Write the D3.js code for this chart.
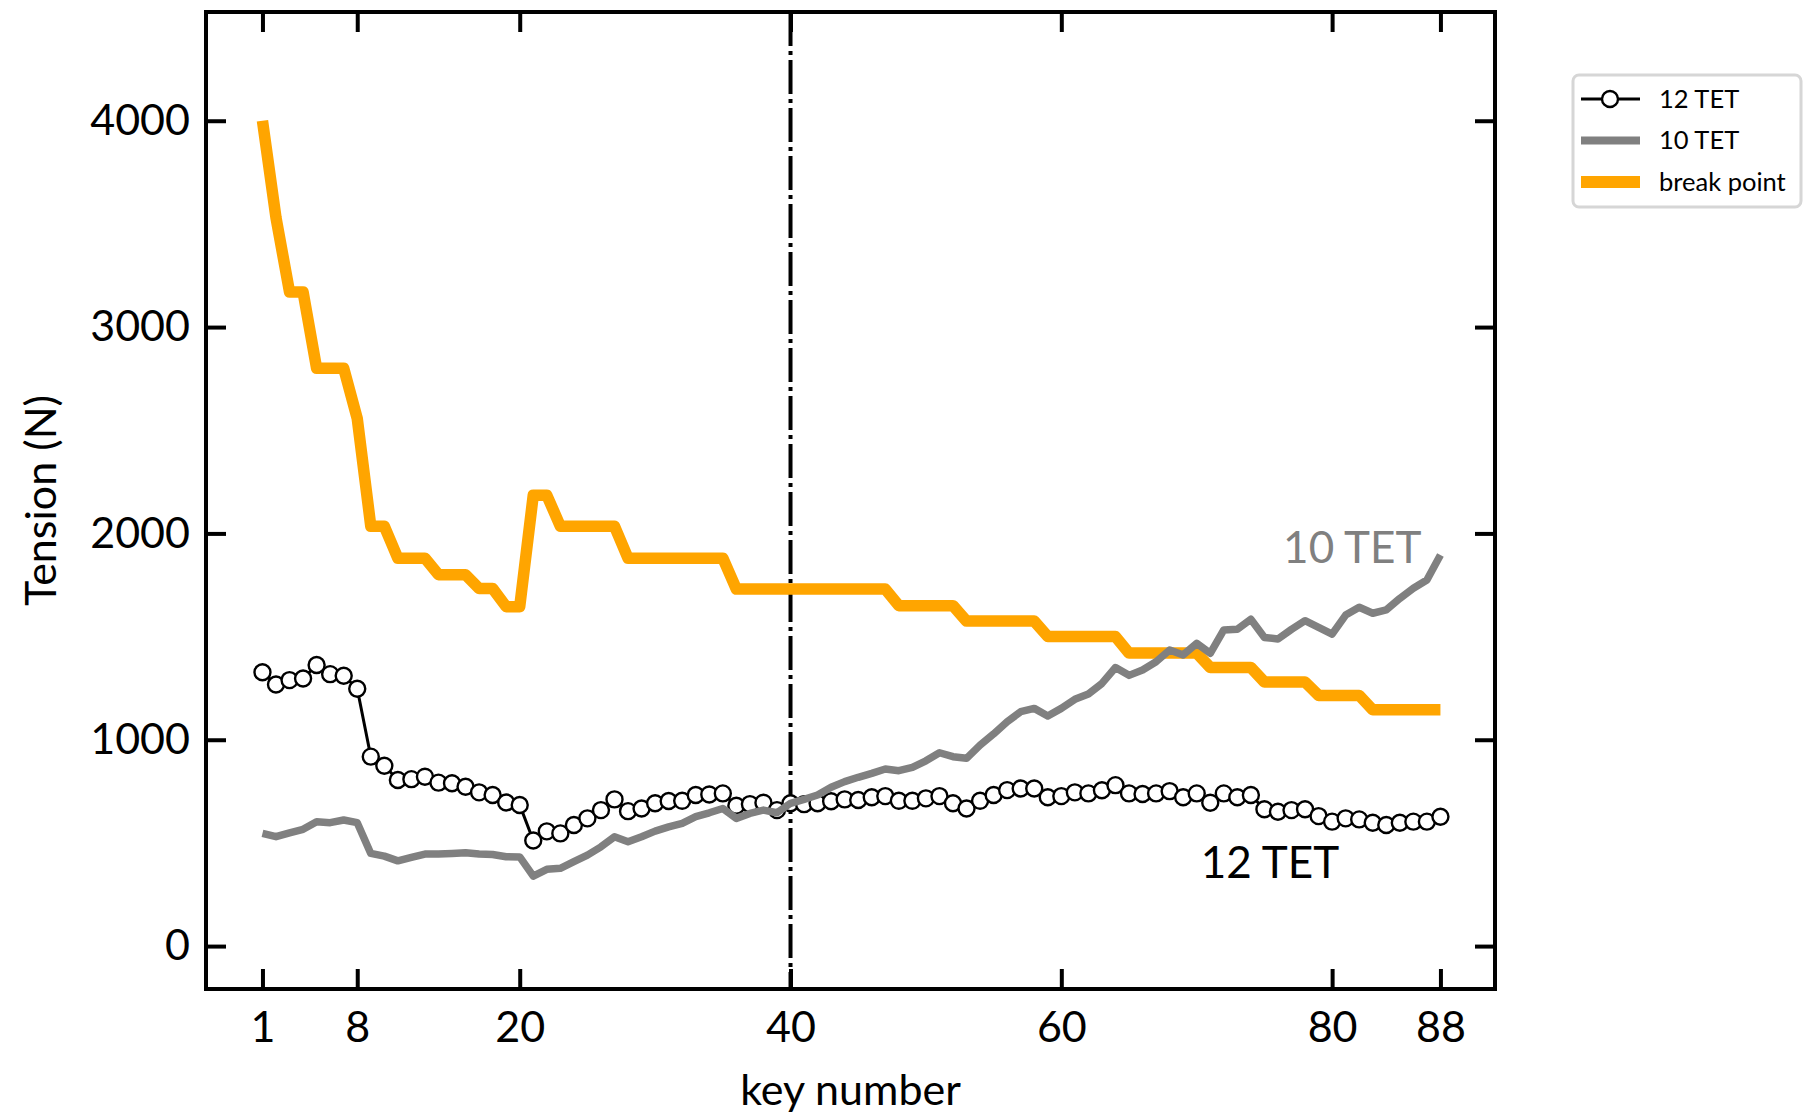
<!DOCTYPE html>
<html>
<head>
<meta charset="utf-8">
<script src="https://cdn.jsdelivr.net/npm/d3@7"></script>
<style>
  body { margin: 0; background: #fff; }
  svg text { font-family: Lato, "Open Sans", sans-serif; }
</style>
</head>
<body>
<div id="chart"></div>
<script>
// key numbers 1..88 of the piano
let keys = d3.range(1, 89)

let tet12 = [1327,1268,1289,1297,1362,1318,1310,1247,918,874,
  805,809,821,792,789,772,745,732,696,684,
  512,556,546,587,619,659,711,654,667,692,
  703,704,732,735,740,680,688,695,659,692,
  688,692,702,711,708,721,727,704,704,716,
  727,692,667,704,732,756,764,764,721,727,
  745,740,755,780,740,737,740,751,721,740,
  695,740,721,732,663,651,659,663,630,603,
  619,614,598,587,598,603,603,627]

let tet10 = [546,530,549,566,603,598,611,598,449,436,
  413,430,446,446,449,452,446,444,433,432,
  339,372,377,409,441,481,530,506,530,557,
  578,595,627,646,667,619,643,659,646,692,
  711,732,770,797,818,837,858,850,866,898,
  937,918,910,974,1028,1087,1136,1152,1115,1152,
  1196,1222,1273,1350,1312,1338,1378,1435,1411,1467,
  1419,1532,1535,1584,1496,1488,1535,1577,1545,1512,
  1604,1642,1613,1629,1685,1734,1774,1895]

let breakPoint = [4000,3530,3170,3170,2800,2800,2800,2557,2035,2035,
  1880,1880,1880,1800,1800,1800,1733,1733,1645,1645,
  2185,2185,2035,2035,2035,2035,2035,1880,1880,1880,
  1880,1880,1880,1880,1880,1730,1730,1730,1730,1730,
  1730,1730,1730,1730,1730,1730,1730,1650,1650,1650,
  1650,1650,1575,1575,1575,1575,1575,1575,1500,1500,
  1500,1500,1500,1500,1420,1420,1420,1420,1420,1420,
  1350,1350,1350,1350,1280,1280,1280,1280,1215,1215,
  1215,1215,1145,1145,1145,1145,1145,1145]

let xTicks = [1, 8, 20, 40, 60, 80, 88]
let yTicks = [0, 1000, 2000, 3000, 4000]
let splitKey = 40

let margin = {top: 12, right: 312, bottom: 128, left: 206}
let W = 1807, H = 1117
let width = W - margin.left - margin.right,
    height = H - margin.top - margin.bottom

let xScale = d3.scaleLinear().domain([-3.17, 92.03]).range([0, width])
let yScale = d3.scaleLinear().domain([-208, 4527]).range([height, 0])

let svg = d3.select("#chart").append("svg")
  .attr("width", W)
  .attr("height", H)

let g = svg.append("g")
  .attr("transform", "translate(" + margin.left + "," + margin.top + ")")

let line = d3.line()
  .x(function(d) { return xScale(d[0]) })
  .y(function(d) { return yScale(d[1]) })

// vertical split marker
g.append("line")
  .attr("x1", xScale(splitKey)).attr("x2", xScale(splitKey))
  .attr("y1", 0).attr("y2", height)
  .attr("stroke", "#000")
  .attr("stroke-width", 4)
  .attr("stroke-dasharray", "34,5,4,5")

g.append("path")
  .datum(keys.map(function(k, i) { return [k, breakPoint[i]] }))
  .attr("d", line)
  .attr("fill", "none")
  .attr("stroke", "orange")
  .attr("stroke-width", 11.5)
  .attr("stroke-linejoin", "round")

let d12 = keys.map(function(k, i) { return [k, tet12[i]] })
g.append("path")
  .datum(d12)
  .attr("d", line)
  .attr("fill", "none")
  .attr("stroke", "#000")
  .attr("stroke-width", 3)

g.selectAll(".dot")
  .data(d12)
  .enter().append("circle")
  .attr("class", "dot")
  .attr("cx", function(d) { return xScale(d[0]) })
  .attr("cy", function(d) { return yScale(d[1]) })
  .attr("r", 8)
  .attr("fill", "#fff")
  .attr("stroke", "#000")
  .attr("stroke-width", 2.4)

g.append("path")
  .datum(keys.map(function(k, i) { return [k, tet10[i]] }))
  .attr("d", line)
  .attr("fill", "none")
  .attr("stroke", "#808080")
  .attr("stroke-width", 7.5)
  .attr("stroke-linejoin", "round")

// AXES (ticks inward on all four sides)
let tickLen = 20
g.append("g")
  .attr("transform", "translate(0," + height + ")")
  .call(d3.axisBottom(xScale).tickValues(xTicks).tickSizeInner(-tickLen).tickSizeOuter(0).tickPadding(22))
g.append("g")
  .call(d3.axisTop(xScale).tickValues(xTicks).tickSizeInner(-tickLen).tickSizeOuter(0).tickFormat(""))
g.append("g")
  .call(d3.axisLeft(yScale).tickValues(yTicks).tickSizeInner(-tickLen).tickSizeOuter(0).tickPadding(16).tickFormat(d3.format("d")))
g.append("g")
  .attr("transform", "translate(" + width + ",0)")
  .call(d3.axisRight(yScale).tickValues(yTicks).tickSizeInner(-tickLen).tickSizeOuter(0).tickFormat(""))

g.selectAll(".domain").remove()
g.selectAll(".tick line").attr("stroke", "#000").attr("stroke-width", 4)
g.selectAll(".tick text")
  .attr("fill", "#000")
  .style("font-size", "43px")

g.append("rect")
  .attr("width", width).attr("height", height)
  .attr("fill", "none")
  .attr("stroke", "#000")
  .attr("stroke-width", 4)

g.append("text")
  .attr("x", width / 2)
  .attr("y", height + 116)
  .attr("text-anchor", "middle")
  .style("font-size", "43px")
  .text("key number")

g.append("text")
  .attr("transform", "translate(" + (-150) + "," + (height / 2) + ") rotate(-90)")
  .attr("text-anchor", "middle")
  .style("font-size", "43px")
  .text("Tension (N)")

// series annotations
g.append("text")
  .attr("x", xScale(86.6))
  .attr("y", yScale(1855))
  .attr("text-anchor", "end")
  .attr("fill", "#808080")
  .style("font-size", "44px")
  .text("10 TET")

g.append("text")
  .attr("x", xScale(70.3))
  .attr("y", yScale(330))
  .attr("fill", "#000")
  .style("font-size", "44px")
  .text("12 TET")

// LEGEND
let legend = svg.append("g")
  .attr("transform", "translate(1573,75)")

legend.append("rect")
  .attr("width", 228).attr("height", 132)
  .attr("rx", 6)
  .attr("fill", "#fff")
  .attr("stroke", "#d6d6d6")
  .attr("stroke-width", 3)

let legendItems = [
  {name: "12 TET", color: "#000", w: 3, marker: true},
  {name: "10 TET", color: "#808080", w: 8, marker: false},
  {name: "break point", color: "orange", w: 12, marker: false}
]

let rows = legend.selectAll(".item")
  .data(legendItems)
  .enter().append("g")
  .attr("class", "item")
  .attr("transform", function(d, i) { return "translate(0," + (24 + i * 41.5) + ")" })

rows.append("line")
  .attr("x1", 8).attr("x2", 67)
  .attr("stroke", function(d) { return d.color })
  .attr("stroke-width", function(d) { return d.w })

rows.filter(function(d) { return d.marker })
  .append("circle")
  .attr("cx", 37).attr("r", 8)
  .attr("fill", "#fff")
  .attr("stroke", "#000")
  .attr("stroke-width", 2.4)

rows.append("text")
  .attr("x", 86)
  .attr("dy", "0.35em")
  .style("font-size", "25.5px")
  .text(function(d) { return d.name })
</script>
</body>
</html>
